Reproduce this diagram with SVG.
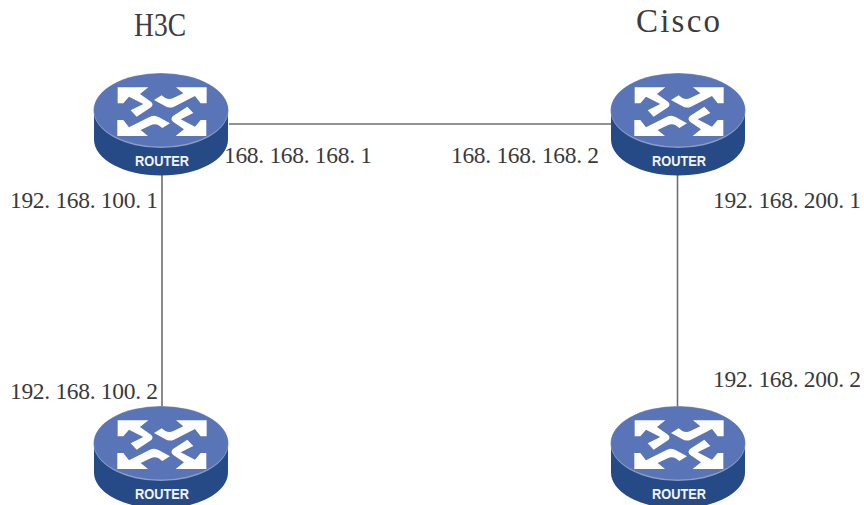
<svg xmlns="http://www.w3.org/2000/svg" xmlns:xlink="http://www.w3.org/1999/xlink" width="864" height="505" viewBox="0 0 864 505">
<style>
.lbl{font-family:"Liberation Serif",serif;font-size:23.500px;fill:#3a3a3a}
.ttl{font-family:"Liberation Serif",serif;font-size:33px;fill:#3c3c3c}
.rt{font-family:"Liberation Sans",sans-serif;font-size:14px;font-weight:700;fill:#f2f4fa;text-anchor:middle}
.cn{stroke:#6e6e6e;stroke-width:1.6;fill:none}
</style>
<defs>
<g id="arrows" fill="#fff">
<path d="M113 82L205 82 180 102 213 125Q222 133 213 142L170 170 152 151 190 132 147 110 130 130 113 130Z"/>
<path d="M380 82L288 82 310 100 280 114Q268 120 256 114L245 106 222 120 255 138Q268 146 282 140L345 108 362 130 380 130Z"/>
</g>
<g id="router">
<path d="M-67 0V29C-67 49-37 65 0 65S67 49 67 29V0Z" fill="#264a86"/>
<ellipse cx="0" cy="0" rx="67.500" ry="37.500" fill="#8c9cc4"/>
<ellipse cx="0" cy="-0.500" rx="67" ry="36.500" fill="#5974b7"/>
<g transform="translate(-81,-50.500) scale(0.3333)">
<use xlink:href="#arrows" href="#arrows"/>
<use xlink:href="#arrows" href="#arrows" transform="rotate(180 246 155)"/>
</g>
<text class="rt" x="1" y="55.500" textLength="54" lengthAdjust="spacingAndGlyphs">ROUTER</text>
</g>
</defs>
<rect width="864" height="505" fill="#fff"/>
<g id="connectors">
<line class="cn" x1="229" y1="124" x2="612" y2="124"/>
<line class="cn" x1="162" y1="175" x2="162" y2="407"/>
<line class="cn" x1="677.500" y1="175" x2="677.500" y2="407"/>
</g>
<g id="h3c-router"><use xlink:href="#router" href="#router" x="161" y="110.500"/></g>
<g id="cisco-router"><use xlink:href="#router" href="#router" x="678" y="110.500"/></g>
<g id="left-router"><use xlink:href="#router" href="#router" x="161" y="443.500"/></g>
<g id="right-router"><use xlink:href="#router" href="#router" x="678" y="443.500"/></g>
<g id="labels">
<text class="ttl" x="134" y="36" textLength="52" lengthAdjust="spacingAndGlyphs">H3C</text>
<text class="ttl" x="636" y="32" textLength="84" lengthAdjust="spacing">Cisco</text>
<text class="lbl" x="224" y="163" textLength="148" lengthAdjust="spacing">168. 168. 168. 1</text>
<text class="lbl" x="451" y="163" textLength="148" lengthAdjust="spacing">168. 168. 168. 2</text>
<text class="lbl" x="10" y="208" textLength="148" lengthAdjust="spacing">192. 168. 100. 1</text>
<text class="lbl" x="10" y="399" textLength="148" lengthAdjust="spacing">192. 168. 100. 2</text>
<text class="lbl" x="713" y="208" textLength="148" lengthAdjust="spacing">192. 168. 200. 1</text>
<text class="lbl" x="713" y="387" textLength="148" lengthAdjust="spacing">192. 168. 200. 2</text>
</g>
</svg>
